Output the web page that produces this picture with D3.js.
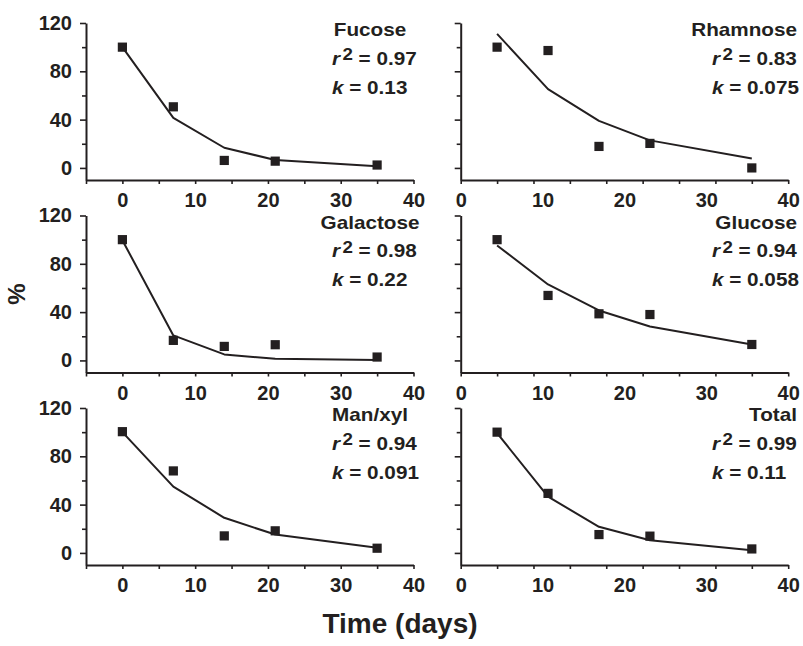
<!DOCTYPE html>
<html>
<head>
<meta charset="utf-8">
<script src="https://cdn.jsdelivr.net/npm/d3@7"></script>
<style>
  body { margin: 0; background: #fff; }
  text { font-family: "Liberation Sans", Arial, Helvetica, sans-serif; font-weight: bold; fill: #231f20; }
  .axis text { font-size: 20px; }
  .axis .domain { stroke-width: 2; }
  .axis .tick line { stroke-width: 1.6; }
</style>
</head>
<body>
<svg id="chart" width="803" height="646"></svg>
<script>
// sampling days and panel names
var days = [0, 7, 14, 21, 35];
var sugars = ["Fucose", "Rhamnose", "Galactose", "Glucose", "Man/xyl", "Total"];
var r2Values = ["0.97", "0.83", "0.98", "0.94", "0.94", "0.99"];
var kValues = ["0.13", "0.075", "0.22", "0.058", "0.091", "0.11"];

// measured % remaining (squares)
var fucoseObs    = [100, 50.6, 6.2, 5.6, 2.4];
var rhamnoseObs  = [100, 97.2, 17.8, 20.3, 0];
var galactoseObs = [100, 16.6, 11.6, 13, 2.8];
var glucoseObs   = [100, 53.8, 38.6, 38, 13.2];
var manxylObs    = [100.4, 67.9, 14.1, 18.3, 3.9];
var totalObs     = [100, 49.3, 15.2, 13.9, 3.3];

// fitted first-order decay (line)
var fucoseFit    = [100, 41.5, 16.7, 6.6, 1.4];
var rhamnoseFit  = [111, 65.3, 39, 22.8, 7.8];
var galactoseFit = [99.5, 20.7, 5, 1.3, 0.4];
var glucoseFit   = [95.2, 62.9, 41.4, 28.1, 13.2];
var manxylFit    = [100, 54.9, 29.1, 15.2, 4.2];
var totalFit     = [99.2, 46.6, 21.6, 10.5, 2.2];

var observed = [fucoseObs, rhamnoseObs, galactoseObs, glucoseObs, manxylObs, totalObs];
var fitted = [fucoseFit, rhamnoseFit, galactoseFit, glucoseFit, manxylFit, totalFit];

// axis ticks
var yTicks = [0, 40, 80, 120];
var yMinor = [20, 60, 100];
var xTicks = [0, 10, 20, 30, 40];
var xMinor = [-5, 0, 5, 10, 15, 20, 25, 30, 35, 40];

var ink = "#231f20";
var svg = d3.select("#chart");

var colX = [86, 460.7];
var rowY = [23, 215.5, 408];
var plotW = 327.5;
var plotH = 157;
var stretch = "scale(1.17,1)";

var x = d3.scaleLinear().domain([-5, 40]).range([0, plotW]);
var y = d3.scaleLinear().domain([-10, 120]).range([plotH, 0]);
// right column tick labels are spread over the whole axis in the original
var xLab = d3.scaleLinear().domain([0, 40]).range([0, plotW]);

var fitLine = d3.line()
  .x(function (d) { return x(d[0]); })
  .y(function (d) { return y(d[1]); });

// annotation layout per column: title anchor, title x, stats x
var annot = [
  { titleAnchor: "middle", titleX: 284, statX: 246 },
  { titleAnchor: "end", titleX: 336.3, statX: 251.3 }
];

function label(g, px, py, anchor) {
  return g.append("text")
    .attr("transform", "translate(" + px + "," + py + ") " + stretch)
    .attr("text-anchor", anchor)
    .style("font-size", "17.7px");
}

sugars.forEach(function (name, i) {
  var col = i % 2;
  var row = Math.floor(i / 2);
  var g = svg.append("g")
    .attr("transform", "translate(" + colX[col] + "," + rowY[row] + ")")
    .style("color", ink);

  // y axis
  g.append("g").attr("class", "axis")
    .call(d3.axisLeft(y).tickValues(yMinor).tickSize(4).tickSizeOuter(0).tickFormat(""))
    .select(".domain").remove();
  g.append("g").attr("class", "axis")
    .call(d3.axisLeft(y).tickValues(yTicks).tickSize(6).tickSizeOuter(0).tickPadding(8)
      .tickFormat(col === 0 ? d3.format("d") : function () { return ""; }));

  // x axis
  var xa = g.append("g").attr("class", "axis").attr("transform", "translate(0," + plotH + ")");
  xa.call(d3.axisBottom(x).tickValues(xMinor).tickSize(4).tickSizeOuter(0).tickFormat(""));
  xa.append("g")
    .call(d3.axisBottom(col === 0 ? x : xLab).tickValues(xTicks).tickSize(0).tickPadding(13))
    .select(".domain").remove();

  // fitted line
  g.append("path")
    .datum(d3.zip(days, fitted[i]))
    .attr("fill", "none")
    .attr("stroke", ink)
    .attr("stroke-width", 2)
    .attr("stroke-linejoin", "round")
    .attr("d", fitLine);

  // measured squares
  g.selectAll("rect.pt")
    .data(d3.zip(days, observed[i]))
    .enter().append("rect")
    .attr("class", "pt")
    .attr("x", function (d) { return x(d[0]) - 4.6; })
    .attr("y", function (d) { return y(d[1]) - 4.6; })
    .attr("width", 9.2)
    .attr("height", 9.2)
    .attr("fill", ink);

  // annotations
  var a = annot[col];
  label(g, a.titleX, 13.3, a.titleAnchor).text(name);

  var r2 = label(g, a.statX, 41.5, "start");
  r2.append("tspan").style("font-style", "italic").text("r");
  r2.append("tspan").attr("dx", 2).attr("dy", -4.5).style("font-size", "16px").text("2");
  r2.append("tspan").attr("dy", 4.5).text(" = " + r2Values[i]);

  var kt = label(g, a.statX, 70.5, "start");
  kt.append("tspan").style("font-style", "italic").text("k");
  kt.append("tspan").text(" = " + kValues[i]);
});

// shared axis titles
svg.append("text")
  .attr("transform", "translate(25,294) rotate(-90)")
  .attr("text-anchor", "middle")
  .style("font-size", "24px")
  .text("%");

svg.append("text")
  .attr("x", 400)
  .attr("y", 633)
  .attr("text-anchor", "middle")
  .style("font-size", "28px")
  .text("Time (days)");
</script>
</body>
</html>
